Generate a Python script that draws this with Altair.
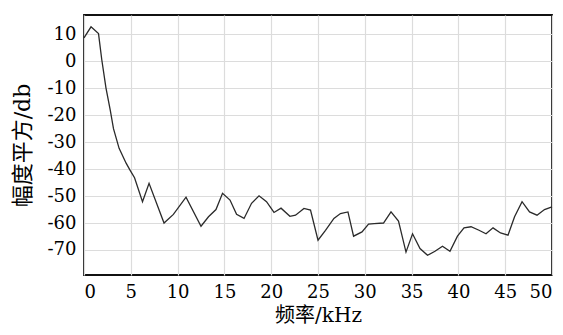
import altair as alt
import pandas as pd

freq = [0.0, 0.75, 1.55, 1.9, 2.35, 2.8, 3.15, 3.75, 4.5, 4.9, 5.4, 6.25, 6.95,
        8.55, 9.55, 10.9, 12.5, 13.3, 14.1, 14.8, 15.6, 16.3, 17.1, 17.9, 18.7,
        19.5, 20.3, 21.05, 22.0, 22.6, 23.5, 24.2, 25.0, 25.8, 26.7, 27.4, 28.2,
        28.8, 29.7, 30.4, 31.0, 32.0, 32.8, 33.6, 34.4, 35.1, 35.9, 36.7, 37.5,
        38.3, 39.1, 39.9, 40.6, 41.35, 42.2, 42.95, 43.7, 44.5, 45.3, 46.0, 46.8,
        47.6, 48.4, 49.2, 50.0]
power = [8.7, 12.8, 10.3, 0.6, -9.9, -18.0, -25.0, -32.3, -37.8, -40.3, -43.2,
         -52.1, -45.3, -60.0, -56.8, -50.4, -61.2, -57.7, -55.0, -49.0, -51.5,
         -56.8, -58.3, -52.7, -49.9, -52.1, -56.1, -54.5, -57.5, -57.1, -54.6,
         -55.2, -66.4, -62.7, -58.3, -56.5, -55.9, -64.9, -63.3, -60.4, -60.2,
         -60.0, -55.9, -59.3, -70.8, -64.0, -69.5, -72.0, -70.5, -68.6, -70.5,
         -64.9, -61.8, -61.4, -62.7, -64.0, -61.8, -63.7, -64.5, -57.7, -52.1,
         -55.9, -57.1, -55.0, -54.0]
x_ticks = [0, 5, 10, 15, 20, 25, 30, 35, 40, 45, 50]
y_ticks = [-70, -60, -50, -40, -30, -20, -10, 0, 10]

df = pd.DataFrame({"freq": freq, "power": power})

serif = "DejaVu Serif, 'Noto Sans CJK SC'"

chart = alt.Chart(df).mark_line(color="#2a2a2a", strokeWidth=1.3).encode(
    x=alt.X("freq:Q", scale=alt.Scale(domain=[0, 50], nice=False, zero=False),
            axis=alt.Axis(values=x_ticks, title="频率/kHz", grid=True,
                          gridColor="#dcdcdc", gridWidth=1.2, domain=False,
                          ticks=False, labelPadding=8, labelFontSize=18,
                          labelFont=serif, labelColor="black",
                          labelExpr="toString(datum.value)",
                          titleFont=serif, titleFontSize=20,
                          titleFontWeight="normal", titleColor="black",
                          titlePadding=4)),
    y=alt.Y("power:Q", scale=alt.Scale(domain=[-79.3, 17.2], nice=False, zero=False),
            axis=alt.Axis(values=y_ticks, title="幅度平方/db", grid=True,
                          gridColor="#dcdcdc", gridWidth=1.2, domain=False,
                          ticks=False, labelPadding=8, labelFontSize=18,
                          labelFont=serif, labelColor="black",
                          labelExpr="toString(datum.value)",
                          titleFont=serif, titleFontSize=22,
                          titleFontWeight="normal", titleColor="black",
                          titlePadding=13)),
).properties(
    width=468, height=260,
    autosize=alt.AutoSizeParams(type="none"),
    padding={"left": 76, "top": 7, "right": 3, "bottom": 52},
).configure_view(stroke="#111111", strokeWidth=1.8)

chart.save("out.html", embed_options={"renderer": "svg", "actions": False})
